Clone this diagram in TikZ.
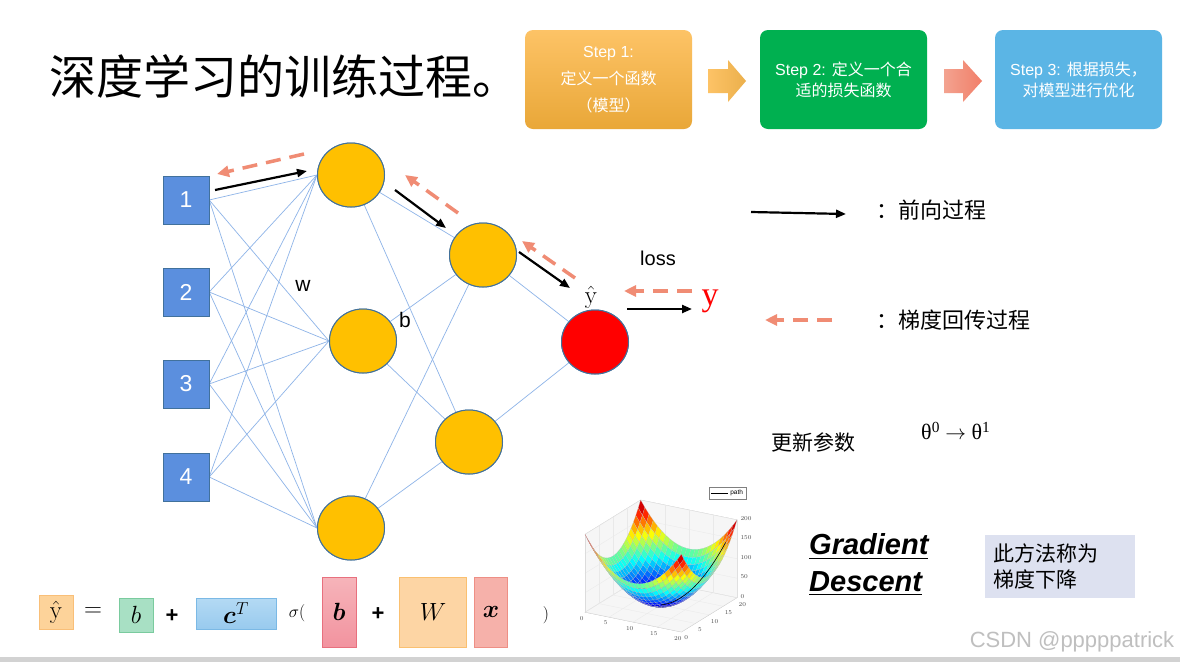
\documentclass[tikz,border=0pt]{standalone}
\usepackage[no-math]{fontspec}
\usepackage{amsmath}
\usepackage{pgfplots}
\pgfplotsset{compat=1.18}
\usetikzlibrary{shapes.geometric,arrows.meta}
\setmainfont{Liberation Sans}
\newfontfamily\cjk{Noto Sans CJK SC}
\newfontfamily\serif{Liberation Serif}

\definecolor{neuronyellow}{HTML}{FFC000}
\definecolor{neuronedge}{HTML}{41719C}
\definecolor{inputblue}{HTML}{5B8FDE}
\definecolor{linkblue}{HTML}{8EB4E8}
\definecolor{backsalmon}{HTML}{F08C74}
\definecolor{steporangetop}{HTML}{FDC366}
\definecolor{steporangebot}{HTML}{E9A738}
\definecolor{stepgreen}{HTML}{00B050}
\definecolor{stepblue}{HTML}{5BB5E5}
\definecolor{lavender}{HTML}{DDE1F0}
% formula boxes
\definecolor{yhatfill}{HTML}{FDD39A}
\definecolor{yhatedge}{HTML}{F9BF78}
\definecolor{bfill}{HTML}{A8E0C4}
\definecolor{bedge}{HTML}{7ACB9E}
\definecolor{ctop}{HTML}{B4DAF4}
\definecolor{cbot}{HTML}{98CAEE}
\definecolor{cedge}{HTML}{7BB9E5}
\definecolor{pinktop}{HTML}{F6B4BA}
\definecolor{pinkbot}{HTML}{F2939F}
\definecolor{pinkedge}{HTML}{E8707E}
\definecolor{wfill}{HTML}{FDD5A4}
\definecolor{wedge}{HTML}{FAC070}
\definecolor{xfill}{HTML}{F6B1AA}
\definecolor{xedge}{HTML}{EE8F85}

\tikzset{
  neuron/.style={ellipse, draw=neuronedge, line width=1pt, fill=neuronyellow,
    minimum width=67pt, minimum height=64pt, inner sep=0pt},
  inbox/.style={rectangle, draw=neuronedge, fill=inputblue, minimum width=46pt,
    minimum height=48pt, text=white, font=\fontsize{23}{26}\selectfont},
  link/.style={linkblue, line width=0.7pt},
  fwd/.style={-{Triangle[length=10pt,width=8pt]}, line width=2.2pt, black},
  back/.style={-{Triangle[length=12pt,width=11pt]}, backsalmon, line width=3.5pt,
    dash pattern=on 15pt off 9pt},
  stepbox/.style={rounded corners=8pt, minimum width=167pt, minimum height=99pt,
    text=white, align=center},
  termbox/.style 2 args={draw=#1, fill=#2, inner sep=0pt},
  plain/.style={inner sep=0pt}
}

\begin{document}
\begin{tikzpicture}[x=1pt, y=-1pt]
\useasboundingbox (0,0) rectangle (1180,662);
\fill[white] (0,0) rectangle (1180,662);

% Title
\node[anchor=west, font=\cjk\fontsize{47}{50}\selectfont] (title) at (46,76) {深度学习的训练过程。};

% Steps
\node[stepbox, top color=steporangetop, bottom color=steporangebot,
  font=\fontsize{16}{27}\selectfont] (step1) at (608.5,79.5) {Step 1:\\{\cjk 定义一个函数}\\{\cjk （模型）}};
\node[stepbox, fill=stepgreen, font=\fontsize{16}{21}\selectfont] (step2) at (843.5,79.5) {Step 2: {\cjk 定义一个合}\\{\cjk 适的损失函数}};
\node[stepbox, fill=stepblue, font=\fontsize{16}{21}\selectfont] (step3) at (1078.5,79.5) {Step 3: {\cjk 根据损失，}\\{\cjk 对模型进行优化}};
% block arrows
\shade[left color=steporangetop, right color=steporangebot!90!white]
  (708,69) -- (728,69) -- (728,60) -- (746,81) -- (728,102) -- (728,93) -- (708,93) -- cycle;
\shade[left color=backsalmon!80!white, right color=backsalmon!90!red]
  (944,69) -- (963,69) -- (963,60) -- (982,81) -- (963,102) -- (963,93) -- (944,93) -- cycle;

% Network
\node[inbox] (in1) at (186,200) {1};
\node[inbox] (in2) at (186,292) {2};
\node[inbox] (in3) at (186,384) {3};
\node[inbox] (in4) at (186,477) {4};
\node[neuron] (h1) at (351,175) {};
\node[neuron] (h2) at (363,341) {};
\node[neuron] (h3) at (351,528) {};
\node[neuron] (g1) at (483,255) {};
\node[neuron] (g2) at (469,442) {};
\node[neuron, fill=red] (out) at (595,342) {};

% Links
\foreach \i in {1,...,4}
  \foreach \j in {1,2,3}
    \draw[link] (in\i.east) -- (h\j.west);
\foreach \j in {1,2,3}
  \foreach \k in {1,2}
    \draw[link] (h\j) -- (g\k);
\draw[link] (g1) -- (out);
\draw[link] (g2) -- (out);
% redraw nodes on top of links
\node[inbox] at (in1) {1};
\node[inbox] at (in2) {2};
\node[inbox] at (in3) {3};
\node[inbox] at (in4) {4};
\foreach \n in {h1,h2,h3,g1,g2}
  \node[neuron] at (\n) {};
\node[neuron, fill=red] at (out) {};

\node[plain, font=\fontsize{21}{21}\selectfont] (wlbl) at (303,286) {w};
\node[plain, font=\fontsize{21}{21}\selectfont] (blbl) at (405,320) {b};
\node[plain, font=\fontsize{20}{20}\selectfont] (loss) at (658,258) {loss};
\node[plain, font=\fontsize{33}{33}\selectfont] (yhat) at (591,297) {$\hat{\mathrm{y}}$};
\node[plain, text=red, font=\serif\fontsize{34}{34}\selectfont] (ytrue) at (710,301) {y};

% Forward pass
\coordinate (f1s) at (215,190); \coordinate (f1e) at (307,171);
\coordinate (f2s) at (395,190); \coordinate (f2e) at (446,228);
\coordinate (f3s) at (519,252); \coordinate (f3e) at (570,288);
\coordinate (f4s) at (627,309); \coordinate (f4e) at (692,309);
\draw[fwd] (f1s) -- (f1e);
\draw[fwd] (f2s) -- (f2e);
\draw[fwd] (f3s) -- (f3e);
\draw[fwd] (f4s) -- (f4e);
% Backward pass
\coordinate (b1s) at (304,154); \coordinate (b1e) at (217,174);
\coordinate (b2s) at (458,213); \coordinate (b2e) at (405,175);
\coordinate (b3s) at (575,278); \coordinate (b3e) at (522,241);
\coordinate (b4s) at (692,291); \coordinate (b4e) at (624,291);
\draw[back] (b1s) -- (b1e);
\draw[back] (b2s) -- (b2e);
\draw[back] (b3s) -- (b3e);
\draw[back] (b4s) -- (b4e);

% Legend
\coordinate (lf1) at (751,212); \coordinate (lf2) at (846,214);
\draw[fwd] (lf1) -- (lf2);
\node[anchor=west, plain, font=\cjk\fontsize{22}{24}\selectfont] (lgfwd) at (876,210) {：前向过程};
\coordinate (lb1) at (832,320); \coordinate (lb2) at (765,320);
\draw[back] (lb1) -- (lb2);
\node[anchor=west, plain, font=\cjk\fontsize{22}{24}\selectfont] (lgback) at (876,320) {：梯度回传过程};

% Update
\node[anchor=west, plain, font=\cjk\fontsize{21}{24}\selectfont] (update) at (771,442) {更新参数};
\node[anchor=west, plain, font=\serif\fontsize{22}{24}\selectfont] (theta) at (921,431) {θ\textsuperscript{0} $\rightarrow$ θ\textsuperscript{1}};

% Gradient descent
\node[anchor=north west, plain, align=left, font=\bfseries\itshape\fontsize{29}{37}\selectfont] (gd) at (809,533) {\underline{Gradient}\\\underline{Descent}};
\node[fill=lavender, minimum width=150pt, minimum height=63pt, inner sep=0pt] (cnbox) at (1060,566.5) {};
\node[anchor=west, plain, align=left, font=\cjk\fontsize{21}{26}\selectfont] (cntext) at (993,566) {此方法称为\\梯度下降};

% Formula
\node[termbox={yhatedge}{yhatfill}, minimum width=34pt, minimum height=34pt, font=\fontsize{24}{24}\selectfont] (fy) at (56,612) {$\hat{\mathrm{y}}$};
\node[plain, font=\fontsize{26}{26}\selectfont] (feq) at (93,612) {$=$};
\node[termbox={bedge}{bfill}, minimum width=34pt, minimum height=34pt, font=\fontsize{24}{24}\selectfont] (fb1) at (136,615) {$b$};
\node[plain, font=\bfseries\fontsize{22}{22}\selectfont] (fp1) at (172,616) {+};
\node[termbox={cedge}{cbot}, top color=ctop, bottom color=cbot, minimum width=80pt, minimum height=31pt, font=\fontsize{24}{24}\selectfont] (fc) at (236,613.5) {$\boldsymbol{c}^{T}$};
\node[plain, font=\fontsize{16}{16}\selectfont] (fsig) at (297,613) {$\sigma($};
\node[termbox={pinkedge}{pinkbot}, top color=pinktop, bottom color=pinkbot, minimum width=34pt, minimum height=70pt, font=\fontsize{26}{26}\selectfont] (fb2) at (339,612) {$\boldsymbol{b}$};
\node[plain, font=\bfseries\fontsize{22}{22}\selectfont] (fp2) at (378,614) {+};
\node[termbox={wedge}{wfill}, minimum width=67pt, minimum height=70pt, font=\fontsize{26}{26}\selectfont] (fw) at (433,612) {$W$};
\node[termbox={xedge}{xfill}, minimum width=33pt, minimum height=70pt, font=\fontsize{24}{24}\selectfont] (fx) at (491,612) {$\boldsymbol{x}$};
\node[plain, font=\fontsize{16}{16}\selectfont] (fclose) at (546,615) {$)$};

% Loss surface
\coordinate (plotc) at (661,566);
\begin{axis}[at={(plotc)}, anchor=center, scale only axis, width=152pt, height=132pt,
  view={30}{27}, xmin=0, xmax=20, ymin=0, ymax=20, zmin=0, zmax=200,
  xtick={0,5,...,20}, ytick={0,5,...,20}, ztick={0,50,...,200},
  grid=major, grid style={gray!25, line width=0.3pt},
  axis line style={gray!50, line width=0.3pt}, tick style={draw=none},
  tick label style={font=\fontsize{6.5}{7}\selectfont, gray!60!black},
  zticklabel pos=right, colormap/jet, clip=false,
  legend style={at={(1.06,1.1)}, anchor=north east, font=\fontsize{6.5}{7}\selectfont,
    draw=gray, inner sep=1pt}]
% panes
\fill[gray!12, fill opacity=0.6] (axis cs:0,0,0) -- (axis cs:20,0,0) -- (axis cs:20,20,0) -- (axis cs:0,20,0) -- cycle;
\fill[gray!12, fill opacity=0.6] (axis cs:0,20,0) -- (axis cs:20,20,0) -- (axis cs:20,20,200) -- (axis cs:0,20,200) -- cycle;
\fill[gray!12, fill opacity=0.6] (axis cs:0,0,0) -- (axis cs:0,20,0) -- (axis cs:0,20,200) -- (axis cs:0,0,200) -- cycle;
\addplot3[surf, shader=faceted, faceted color=black!25, line width=0.1pt,
  samples=24, domain=0:20, y domain=0:20, forget plot] {(x-10)^2+(y-10)^2};
\addplot3[black, line width=0.6pt, samples=20, domain=10:18.5, samples y=1]
  ({x},{x},{2*(x-10)^2});
\addlegendentry{path}
\end{axis}

% Footer
\node[plain, text=gray!50, font=\fontsize{22}{22}\selectfont] (mark) at (1072,642) {CSDN @pppppatrick};
\fill[gray!35] (0,657) rectangle (1180,662);
\end{tikzpicture}
\end{document}
